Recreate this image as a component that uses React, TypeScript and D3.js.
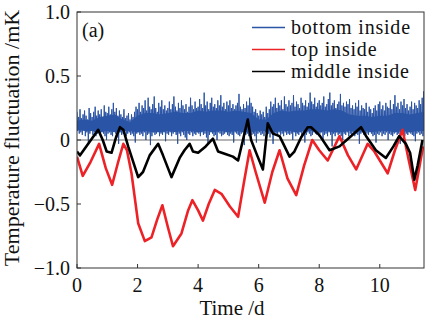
import React from 'react';
import * as d3 from 'd3';

const W = 425;
const H = 321;

const xTicks = [0, 2, 4, 6, 8, 10];
const xTickLabels = ['0', '2', '4', '6', '8', '10'];
const yTicks = [1.0, 0.5, 0, -0.5, -1.0];
const yTickLabels = ['1.0', '0.5', '0', '\u22120.5', '\u22121.0'];
const seriesNames = ['bottom inside', 'top inside', 'middle inside'];
const seriesColors = ['#2a54a6', '#ec2227', '#000000'];

// top inside (red): [time d, value mK]
const redSeries: [number, number][] = [
  [0, -0.13], [0.19, -0.28], [0.45, -0.17], [0.73, -0.03], [0.95, -0.22], [1.16, -0.35],
  [1.35, -0.18], [1.53, -0.03], [1.65, -0.08], [1.8, -0.26], [2.02, -0.65], [2.24, -0.79],
  [2.46, -0.76], [2.65, -0.62], [2.82, -0.51], [3.0, -0.68], [3.17, -0.83], [3.45, -0.73],
  [3.67, -0.55], [3.81, -0.47], [4.0, -0.55], [4.16, -0.63], [4.35, -0.5], [4.55, -0.39],
  [4.77, -0.42], [5.05, -0.52], [5.32, -0.6], [5.5, -0.35], [5.7, -0.08], [5.9, -0.25],
  [6.2, -0.49], [6.45, -0.25], [6.69, -0.08], [6.95, -0.3], [7.24, -0.43], [7.5, -0.2],
  [7.77, 0.0], [8.0, -0.08], [8.28, -0.16], [8.67, 0.03], [8.95, -0.12], [9.22, -0.23],
  [9.6, -0.03], [9.82, -0.09], [10.26, -0.26], [10.5, -0.08], [10.75, 0.08], [10.95, -0.15],
  [11.17, -0.39], [11.43, -0.05],
];

// middle inside (black)
const blackSeries: [number, number][] = [
  [0, -0.09], [0.1, -0.12], [0.4, -0.02], [0.7, 0.08], [0.85, 0.0], [0.98, -0.09],
  [1.14, -0.1], [1.3, 0.03], [1.42, 0.1], [1.53, 0.08], [1.69, -0.05], [1.91, -0.21],
  [2.02, -0.29], [2.18, -0.25], [2.4, -0.12], [2.68, -0.03], [2.84, -0.12], [3.12, -0.29],
  [3.39, -0.14], [3.55, -0.08], [3.72, -0.03], [3.83, -0.09], [4.0, -0.1], [4.25, -0.05],
  [4.49, 0.01], [4.66, -0.09], [4.9, -0.11], [5.15, -0.13], [5.32, -0.16], [5.5, 0.02],
  [5.64, 0.16], [5.75, 0.0], [5.95, -0.12], [6.14, -0.23], [6.22, -0.05], [6.3, 0.13],
  [6.47, 0.05], [6.69, 0.03], [7.02, -0.13], [7.18, -0.09], [7.4, 0.02], [7.62, 0.1],
  [7.73, 0.1], [8.0, 0.04], [8.34, -0.08], [8.67, -0.05], [9.0, 0.02], [9.38, 0.1],
  [9.55, 0.03], [9.87, -0.08], [10.2, -0.14], [10.45, -0.05], [10.64, 0.03], [10.86, -0.03],
  [11.0, -0.1], [11.14, -0.31], [11.25, -0.2], [11.41, 0.0],
];

// bottom inside (blue): solid core of the dense noise band [time d, value mK]
const blueCoreTop: [number, number][] = [
  [0, 0.17], [0.25, 0.18], [0.5, 0.17], [0.75, 0.2], [1.0, 0.21], [1.25, 0.22], [1.5, 0.18],
  [1.75, 0.16], [2.0, 0.21], [2.25, 0.23], [2.5, 0.23], [2.75, 0.22], [3.0, 0.23], [3.25, 0.24],
  [3.5, 0.23], [3.75, 0.23], [4.0, 0.25], [4.25, 0.24], [4.5, 0.25], [4.75, 0.25], [5.0, 0.24],
  [5.25, 0.25], [5.5, 0.24], [5.75, 0.23], [6.0, 0.18], [6.25, 0.18], [6.5, 0.23], [6.75, 0.25],
  [7.0, 0.24], [7.25, 0.25], [7.5, 0.25], [7.75, 0.26], [8.0, 0.26], [8.25, 0.25], [8.5, 0.26],
  [8.75, 0.25], [9.0, 0.22], [9.25, 0.21], [9.5, 0.21], [9.75, 0.2], [10.0, 0.21], [10.25, 0.21],
  [10.5, 0.23], [10.75, 0.23], [11.0, 0.22], [11.25, 0.23], [11.46, 0.24],
];
const blueCoreBottom = [
  0.06, 0.05, 0.05, 0.04, 0.05, 0.04, 0.05, 0.05, 0.04, 0.05, 0.04, 0.04, 0.05, 0.04, 0.05, 0.05,
  0.04, 0.05, 0.04, 0.05, 0.04, 0.05, 0.04, 0.04, 0.05, 0.05, 0.04, 0.05, 0.05, 0.04, 0.05, 0.05,
  0.04, 0.05, 0.04, 0.04, 0.05, 0.04, 0.05, 0.04, 0.05, 0.05, 0.04, 0.05, 0.04, 0.05, 0.05,
];

// blue fast excursions: successive local maxima / minima (hundredths of mK),
// one pair every 0.05 d starting at t = 0
const blueStep = 0.05;
const blueHigh = [
  22, 18, 24, 17, 20, 23, 19, 16, 25, 21, 18, 22, 26, 19, 23, 20, 24, 18, 27, 22,
  21, 26, 20, 24, 29, 22, 25, 19, 23, 20, 18, 24, 17, 19, 21, 16, 20, 18, 22, 26,
  24, 29, 22, 27, 25, 31, 23, 33, 26, 24, 28, 34, 25, 22, 29, 26, 31, 24, 27, 23,
  25, 30, 24, 28, 34, 26, 23, 29, 25, 31, 27, 24, 28, 22, 26, 33, 27, 24, 30, 25,
  26, 32, 28, 25, 37, 27, 30, 24, 29, 33, 26, 28, 25, 31, 27, 35, 26, 29, 24, 30,
  27, 31, 25, 28, 24, 27, 29, 36, 26, 24, 28, 25, 30, 27, 33, 29, 26, 22, 24, 21,
  19, 23, 20, 22, 18, 26, 21, 24, 30, 26, 28, 33, 25, 29, 27, 31, 24, 34, 28, 26,
  31, 27, 29, 35, 26, 30, 28, 25, 33, 29, 27, 31, 26, 29, 37, 30, 28, 33, 26, 29,
  31, 27, 29, 34, 26, 28, 32, 37, 27, 29, 31, 25, 28, 30, 36, 27, 29, 26, 30, 28,
  32, 25, 27, 24, 29, 26, 31, 23, 27, 25, 24, 29, 22, 26, 24, 21, 25, 27, 23, 28,
  30, 24, 27, 23, 29, 26, 25, 31, 24, 28, 35, 26, 29, 24, 30, 27, 32, 25, 28, 23,
  26, 30, 24, 29, 27, 25, 31, 28, 33, 38,
];
const blueLow = [
  7, 5, 6, 4, 8, 3, 6, -2, 5, 7, 4, 6, 3, 5, 8, 4, 6, 5, 3, 0,
  5, 6, 4, 3, 7, 5, 2, -3, 6, 4, 5, 7, 3, 5, 6, 4, 5, 3, -2, 5,
  6, 4, 5, 3, 6, 0, 4, 5, -4, 3, 6, 4, 5, 7, 3, 5, 4, 6, -1, 5,
  4, 6, 3, 5, 7, 4, -3, 5, 3, 6, 4, 2, 0, 5, 4, 6, 3, 5, 4, 6,
  5, 3, 6, 4, 5, 2, -3, 4, 6, 5, 3, 4, 0, 6, 5, 3, 4, 5, 6, 4,
  3, 5, 4, -2, 6, 5, 4, 3, 5, 6, -4, 4, 5, 3, 6, 4, 5, 3, -2, 5,
  6, 4, 5, 3, 6, 4, 5, 2, 6, -3, 4, 5, 3, 6, 4, 5, 3, 6, 4, 5,
  4, 5, 0, 6, 3, 5, 4, 6, 3, 5, -2, 4, 6, 5, 3, 4, 6, 5, 4, 3,
  5, 6, -1, 4, 5, 3, 6, 4, -5, 5, 3, 6, 4, 5, 3, 0, 5, 4, 6, 3,
  5, 4, 6, 3, 5, 4, -3, 5, 6, 4, 3, 5, 4, 6, 5, 3, 4, -2, 5, 4,
  6, 3, 5, 4, 6, 0, 5, 4, 3, 5, 6, 4, 5, -3, 4, 6, 3, 5, 4, 6,
  5, 4, 3, -1, 5, 6, 4, 5, 3, 5,
];

const FONT = "'Liberation Serif', 'DejaVu Serif', serif";
const txt: React.CSSProperties = { fontFamily: FONT };

export default function App() {
  const x = d3.scaleLinear().domain([0, 11.46]).range([77, 424]);
  const y = d3.scaleLinear().domain([-1, 1]).range([268, 12]);

  const line = d3
    .line<[number, number]>()
    .x((d) => x(d[0]))
    .y((d) => y(d[1]));

  const coreArea = d3
    .area<[number, number]>()
    .x((d) => x(d[0]))
    .y1((d) => y(d[1] - 0.02))
    .y0((_, i) => y(blueCoreBottom[i] + 0.02));

  const bluePts: [number, number][] = [];
  blueHigh.forEach((h, i) => {
    const t = i * blueStep;
    bluePts.push([t, h / 100]);
    bluePts.push([t + blueStep / 2, blueLow[i] / 100]);
  });

  const [x0, x1] = x.range();
  const [yb, yt] = y.range();

  return (
    <svg
      width={W}
      height={H}
      style={{ position: 'absolute', left: 0, top: 0, background: '#fff', fontFamily: FONT }}
    >
      <defs>
        <clipPath id="plotclip">
          <rect x={x0} y={yt} width={x1 - x0} height={yb - yt} />
        </clipPath>
      </defs>
      <g clipPath="url(#plotclip)">
        <path d={coreArea(blueCoreTop) || ''} fill={seriesColors[0]} stroke="none" />
        <path d={line(bluePts) || ''} fill="none" stroke={seriesColors[0]} strokeWidth={1} strokeLinejoin="miter" />
        <line x1={x0} x2={x1} y1={y(0)} y2={y(0)} stroke="#444" strokeWidth={0.8} />
        <path d={line(redSeries) || ''} fill="none" stroke={seriesColors[1]} strokeWidth={2.6} strokeLinejoin="round" />
        <path d={line(blackSeries) || ''} fill="none" stroke={seriesColors[2]} strokeWidth={2.6} strokeLinejoin="round" />
      </g>

      {/* frame */}
      <rect x={x0} y={yt} width={x1 - x0} height={yb - yt} fill="none" stroke="#333" strokeWidth={1} />

      {/* x ticks */}
      {xTicks.map((t, i) => (
        <g key={'xt' + i}>
          <line x1={x(t)} x2={x(t)} y1={yb} y2={yb - 4} stroke="#333" strokeWidth={1} />
          <text x={x(t)} y={292} textAnchor="middle" fontSize={20} fill="#111" style={txt}>
            {xTickLabels[i]}
          </text>
        </g>
      ))}
      {/* y ticks */}
      {yTicks.map((t, i) => (
        <g key={'yt' + i}>
          <line x1={x0} x2={x0 + 4} y1={y(t)} y2={y(t)} stroke="#333" strokeWidth={1} />
          <text x={70} y={y(t) + 7} textAnchor="end" fontSize={20} fill="#111" style={txt}>
            {yTickLabels[i]}
          </text>
        </g>
      ))}

      {/* axis labels */}
      <text x={232} y={315} textAnchor="middle" fontSize={21} fill="#111" style={txt}>
        Time /d
      </text>
      <text transform="translate(19,138) rotate(-90)" textAnchor="middle" fontSize={22} fill="#111" style={txt}>
        Temperature fluctuation /mK
      </text>

      {/* panel label */}
      <text x={82} y={37} fontSize={20} fill="#111" style={txt}>
        (a)
      </text>

      {/* legend */}
      {seriesNames.map((n, i) => (
        <g key={'lg' + i}>
          <line x1={252} x2={285} y1={27.5 + i * 22} y2={27.5 + i * 22} stroke={seriesColors[i]} strokeWidth={1.5} />
          <text x={291} y={34 + i * 22} fontSize={20} letterSpacing={0.8} fill="#111" style={txt}>
            {n}
          </text>
        </g>
      ))}
    </svg>
  );
}
